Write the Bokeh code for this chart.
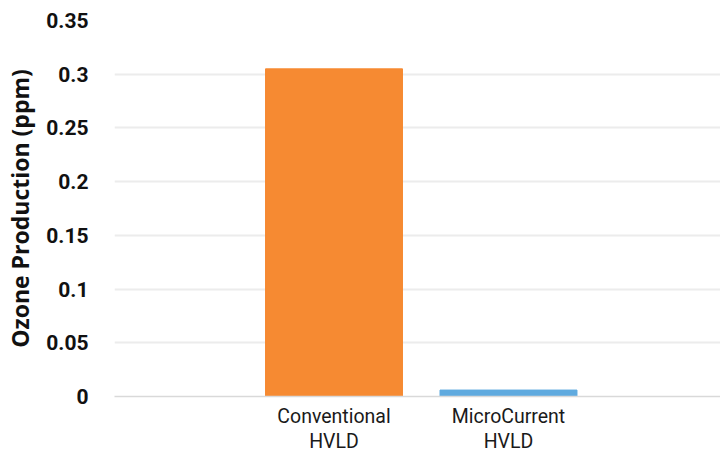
from bokeh.plotting import figure
from bokeh.models import FixedTicker, ColumnDataSource, Range1d
from bokeh.embed import file_html
from bokeh.resources import INLINE

# Ozone produced by each leak-detection method (ppm)
categories = ["Conventional\nHVLD", "MicroCurrent\nHVLD"]
ozone_ppm = [0.305, 0.006]
bar_colors = ["#F68A32", "#5FAADF"]
y_ticks = [0, 0.05, 0.1, 0.15, 0.2, 0.25, 0.3, 0.35]
y_tick_labels = ["0", "0.05", "0.1", "0.15", "0.2", "0.25", "0.3", "0.35"]

positions = list(range(len(categories)))
source = ColumnDataSource(dict(x=positions, top=ozone_ppm, color=bar_colors))

p = figure(
    width=720, height=455,
    x_range=Range1d(-1.258, 2.215), y_range=Range1d(0, 0.35),
    output_backend="svg", toolbar_location=None,
    min_border_left=114, min_border_right=0, min_border_top=20, min_border_bottom=59,
)
p.outline_line_color = None
p.background_fill_color = "white"
p.border_fill_color = "white"

p.vbar(x="x", top="top", width=0.785, color="color", source=source)

# y axis: bold tick labels, no line or ticks
p.yaxis.ticker = FixedTicker(ticks=y_ticks)
p.yaxis.major_label_overrides = {t: s for t, s in zip(y_ticks, y_tick_labels)}
p.yaxis.axis_line_color = None
p.yaxis.major_tick_line_color = None
p.yaxis.minor_tick_line_color = None
p.yaxis.major_tick_out = 0
p.yaxis.major_tick_in = 0
p.yaxis.major_label_text_font = "Roboto"
p.yaxis.major_label_text_font_style = "bold"
p.yaxis.major_label_text_font_size = "21px"
p.yaxis.major_label_text_color = "#111111"
p.yaxis.major_label_standoff = 26
p.yaxis.axis_label = "Ozone Production (ppm)"
p.yaxis.axis_label_text_font = "Open Sans"
p.yaxis.axis_label_text_font_style = "bold"
p.yaxis.axis_label_text_font_size = "23px"
p.yaxis.axis_label_text_color = "#111111"
p.yaxis.axis_label_standoff = 7

# x axis: category labels on two lines
p.xaxis.ticker = FixedTicker(ticks=positions)
p.xaxis.major_label_overrides = {i: c for i, c in zip(positions, categories)}
p.xaxis.axis_line_color = "#d9d9d9"
p.xaxis.axis_line_width = 1.5
p.xaxis.major_tick_line_color = None
p.xaxis.minor_tick_line_color = None
p.xaxis.major_tick_out = 0
p.xaxis.major_tick_in = 0
p.xaxis.major_label_text_font = "Roboto"
p.xaxis.major_label_text_font_size = "19.5px"
p.xaxis.major_label_text_line_height = 1.1
p.xaxis.major_label_text_color = "#1a1a1a"
p.xaxis.major_label_standoff = 8

p.xgrid.grid_line_color = None
p.ygrid.ticker = FixedTicker(ticks=y_ticks)
p.ygrid.grid_line_color = "#ececec"
p.ygrid.grid_line_width = 2

open("out.html", "w").write(file_html(p, INLINE))
